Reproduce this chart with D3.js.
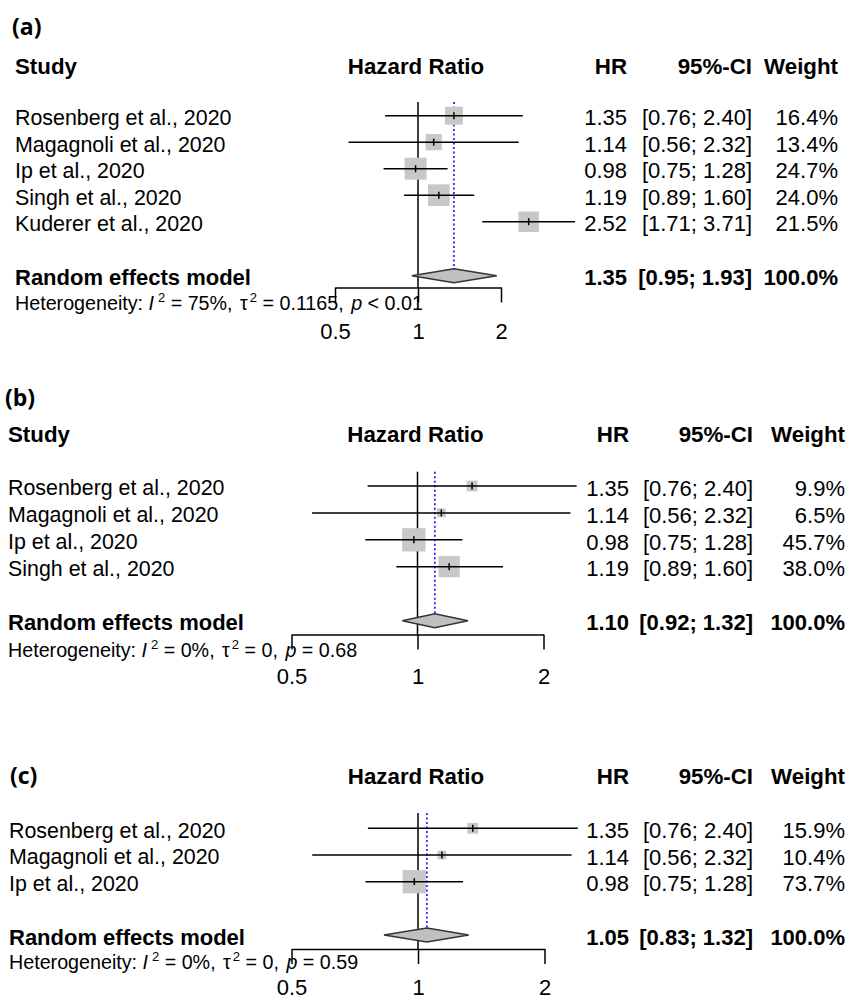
<!DOCTYPE html>
<html>
<head>
<meta charset="utf-8">
<script src="https://cdn.jsdelivr.net/npm/d3@7"></script>
<style>
body{margin:0;background:#fff}
text{font-family:"Liberation Sans",Arial,sans-serif;fill:#000}
</style>
</head>
<body>
<div id="chart"></div>
<script>
// same five studies, panels (b) and (c) drop the last ones
var studies = ["Rosenberg et al., 2020","Magagnoli et al., 2020","Ip et al., 2020","Singh et al., 2020","Kuderer et al., 2020"]
var hr = [1.35,1.14,0.98,1.19,2.52]
var ciLow = [0.76,0.56,0.75,0.89,1.71]
var ciHigh = [2.40,2.32,1.28,1.60,3.71]
var weightA = [16.4,13.4,24.7,24.0,21.5]
var weightB = [9.9,6.5,45.7,38.0]
var weightC = [15.9,10.4,73.7]
var panelLabels = ["(a)","(b)","(c)"]
var sumHR = [1.35,1.10,1.05]
var sumLow = [0.95,0.92,0.83]
var sumHigh = [1.93,1.32,1.32]
var hetI2 = ["75%","0%","0%"]
var hetTau2 = ["0.1165","0","0"]
var hetP = ["< 0.01","= 0.68","= 0.59"]
var axisTicks = [0.5,1,2]

var weights = [weightA,weightB,weightC]

// layout of each panel (pixel positions)
var layout = [
    {labelX:12,labelY:35,headerY:66,study:true,textX:15,rowTop:115.7,rowStep:26.5,sumY:275.7,hetY:303,
     axisY:287.5,tickLab:331,vTop:102,range:[335,501],sq:22,hrX:627,ciX:752,wX:838},
    {labelX:5,labelY:406,headerY:434,study:true,textX:8,rowTop:486,rowStep:26.9,sumY:620.7,hetY:650,
     axisY:634.5,tickLab:676.7,vTop:471.7,range:[291.5,543.5],sq:23.3,hrX:629,ciX:753,wX:845},
    {labelX:10,labelY:783.5,headerY:776,study:false,textX:9,rowTop:828.3,rowStep:26.7,sumY:935,hetY:962,
     axisY:949,tickLab:987.5,vTop:813,range:[291.5,544.5],sq:23.3,hrX:629,ciX:753,wX:845}
]

var two = d3.format(".2f")
var one = d3.format(".1f")

var svg = d3.select("#chart")
    .append("svg")
    .attr("width",850)
    .attr("height",999)

svg.append("rect").attr("width",850).attr("height",999).attr("fill","#fff")

layout.forEach((L,p)=>{
    var w = weights[p]
    var rows = w.map((wt,i)=>({name:studies[i],hr:hr[i],lo:ciLow[i],hi:ciHigh[i],w:wt}))

    var x = d3.scaleLog().domain([0.5,2]).range(L.range)
    var y = d3.scalePoint()
        .domain(rows.map(d=>d.name))
        .range([L.rowTop,L.rowTop+(rows.length-1)*L.rowStep])
    var size = d3.scaleSqrt().domain([0,d3.max(w)]).range([0,L.sq])

    var g = svg.append("g")

    g.append("text")
    .text(panelLabels[p])
    .attr("x",L.labelX)
    .attr("y",L.labelY)
    .style("font-family","'Open Sans', Lato, sans-serif")
    .style("font-weight",700)
    .style("font-size","23px")

    // column headers
    var headers = [
        {t:"Hazard Ratio",x:x(1)-2,a:"middle"},
        {t:"HR",x:L.hrX,a:"end"},
        {t:"95%-CI",x:L.ciX,a:"end"},
        {t:"Weight",x:L.wX,a:"end"}
    ]
    if(L.study) headers.unshift({t:"Study",x:L.textX,a:"start"})
    g.selectAll(".head")
    .data(headers)
    .enter()
    .append("text")
    .text(d=>d.t)
    .attr("x",d=>d.x)
    .attr("y",L.headerY)
    .attr("dy","0.35em")
    .attr("text-anchor",d=>d.a)
    .attr("font-weight",700)
    .attr("font-size",22.3)

    // line of no effect
    g.append("line")
    .attr("x1",x(1)).attr("x2",x(1))
    .attr("y1",L.vTop).attr("y2",L.axisY)
    .attr("stroke","#000")
    .attr("stroke-width",1.5)

    // random effects estimate
    g.append("line")
    .attr("x1",x(sumHR[p])).attr("x2",x(sumHR[p]))
    .attr("y1",L.vTop).attr("y2",L.sumY-7)
    .attr("stroke","#0000ff")
    .attr("stroke-width",1.5)
    .attr("stroke-dasharray","2,2.5")

    g.selectAll(".box")
    .data(rows)
    .enter()
    .append("rect")
    .attr("x",d=>x(d.hr)-size(d.w)/2)
    .attr("y",d=>y(d.name)-size(d.w)/2)
    .attr("width",d=>size(d.w))
    .attr("height",d=>size(d.w))
    .attr("fill","#c8c8c8")

    g.selectAll(".ci")
    .data(rows)
    .enter()
    .append("line")
    .attr("x1",d=>x(d.lo)).attr("x2",d=>x(d.hi))
    .attr("y1",d=>y(d.name)).attr("y2",d=>y(d.name))
    .attr("stroke","#000")
    .attr("stroke-width",1.5)

    g.selectAll(".est")
    .data(rows)
    .enter()
    .append("line")
    .attr("x1",d=>x(d.hr)).attr("x2",d=>x(d.hr))
    .attr("y1",d=>y(d.name)-3.5).attr("y2",d=>y(d.name)+3.5)
    .attr("stroke","#000")
    .attr("stroke-width",1.5)

    var cols = [
        {f:d=>d.name,x:L.textX,a:"start",s:21.4},
        {f:d=>two(d.hr),x:L.hrX,a:"end",s:22},
        {f:d=>"["+two(d.lo)+"; "+two(d.hi)+"]",x:L.ciX,a:"end",s:22},
        {f:d=>one(d.w)+"%",x:L.wX,a:"end",s:22}
    ]
    cols.forEach(c=>{
        g.selectAll(".col")
        .data(rows)
        .enter()
        .append("text")
        .text(c.f)
        .attr("x",c.x)
        .attr("y",d=>y(d.name)+2)
        .attr("dy","0.35em")
        .attr("text-anchor",c.a)
        .attr("font-size",c.s)
    })

    // summary diamond
    var dia = [[x(sumLow[p]),L.sumY],[x(sumHR[p]),L.sumY-7],[x(sumHigh[p]),L.sumY],[x(sumHR[p]),L.sumY+7]]
    g.append("path")
    .attr("d",d3.line()(dia)+"Z")
    .attr("fill","#c0c0c0")
    .attr("stroke","#333")
    .attr("stroke-width",1.5)

    var sumCols = [
        {t:"Random effects model",x:L.textX,a:"start"},
        {t:two(sumHR[p]),x:L.hrX,a:"end"},
        {t:"["+two(sumLow[p])+"; "+two(sumHigh[p])+"]",x:L.ciX,a:"end"},
        {t:"100.0%",x:L.wX,a:"end"}
    ]
    g.selectAll(".sum")
    .data(sumCols)
    .enter()
    .append("text")
    .text(d=>d.t)
    .attr("x",d=>d.x)
    .attr("y",L.sumY+2)
    .attr("dy","0.35em")
    .attr("text-anchor",d=>d.a)
    .attr("font-weight",700)
    .attr("font-size",22)

    // heterogeneity line
    var het = g.append("text")
    .attr("x",L.textX)
    .attr("y",L.hetY)
    .attr("dy","0.35em")
    .attr("font-size",19.7)
    het.append("tspan").text("Heterogeneity: ")
    het.append("tspan").text("I").style("font-style","italic")
    het.append("tspan").text("2").attr("font-size",13).attr("dx",4).attr("dy",-8)
    het.append("tspan").text(" = "+hetI2[p]+", ").attr("dy",8)
    het.append("tspan").text("τ").attr("dx",2)
    het.append("tspan").text("2").attr("font-size",13).attr("dx",2).attr("dy",-8)
    het.append("tspan").text(" = "+hetTau2[p]+", ").attr("dy",8)
    het.append("tspan").text("p").attr("dx",2).style("font-style","italic")
    het.append("tspan").text(" "+hetP[p])

    var ax = g.append("g")
    .attr("transform","translate(0,"+L.axisY+")")
    .call(d3.axisBottom(x).tickValues(axisTicks).tickFormat(d=>d).tickSize(15).tickSizeOuter(0))
    ax.select(".domain").attr("stroke","#000").attr("stroke-width",1.5)
    ax.selectAll(".tick line").attr("stroke","#000").attr("stroke-width",1.5)
    ax.selectAll(".tick text")
    .attr("y",L.tickLab-L.axisY)
    .attr("dy","0.35em")
    .attr("font-size",22)
    .attr("font-family","'Liberation Sans', Arial, sans-serif")
    .attr("fill","#000")
})
</script>
</body>
</html>
